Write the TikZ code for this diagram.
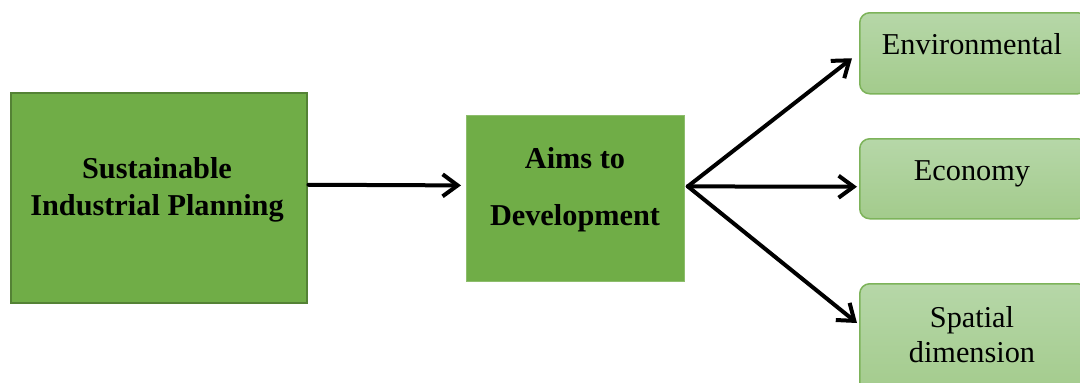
\documentclass[tikz,border=0pt]{standalone}
\usepackage{fontspec}
\setmainfont{Liberation Serif}
\usetikzlibrary{arrows.meta,calc}
\definecolor{mainfill}{HTML}{70AD47}
\definecolor{mainedge}{HTML}{548235}
\definecolor{lighttop}{HTML}{B6D7A8}
\definecolor{lightbot}{HTML}{A3CB8C}
\definecolor{lightedge}{HTML}{7DB35A}
\tikzset{
  mainbox/.style={draw=mainedge, line width=1.5pt, fill=mainfill, inner sep=0pt},
  aimbox/.style={draw=mainfill!80!white, line width=0.8pt, fill=mainfill, inner sep=0pt},
  outbox/.style={draw=lightedge, line width=1.5pt, rounded corners=10pt,
    top color=lighttop, bottom color=lightbot, inner sep=0pt},
  flow/.style={line width=4pt, -{Straight Barb[length=15pt,width=22pt,line width=4pt]},
    line cap=round, line join=round},
  boldtxt/.style={font=\fontsize{30.3}{38}\selectfont\bfseries, align=center},
  plaintxt/.style={font=\fontsize{30.3}{36}\selectfont, align=center},
}
\begin{document}
\begin{tikzpicture}[x=1pt,y=-1pt]
\useasboundingbox (0,0) rectangle (1080,383);
\clip (0,0) rectangle (1080,383);

% source box
\node[mainbox, minimum width=296pt, minimum height=210pt, anchor=north west] (sip) at (10,92) {};
\node[boldtxt, anchor=base] (sipa) at (157,178) {Sustainable};
\node[boldtxt, anchor=base] (sipb) at (157,215) {Industrial Planning};

% middle box
\node[aimbox, minimum width=218pt, minimum height=166pt, anchor=north west] (aim) at (466,115) {};
\node[boldtxt, anchor=base] (aima) at (575,168) {Aims to};
\node[boldtxt, anchor=base] (aimb) at (575,225) {Development};

% outcome boxes
\node[outbox, minimum width=228pt, minimum height=81pt, anchor=north west] (env) at (859,12) {};
\node[plaintxt, anchor=base] (envt) at (972,54) {Environmental};
\node[outbox, minimum width=228pt, minimum height=80pt, anchor=north west] (eco) at (859,138) {};
\node[plaintxt, anchor=base] (ecot) at (972,180) {Economy};
\node[outbox, minimum width=228pt, minimum height=112pt, anchor=north west] (spa) at (859,283) {};
\node[plaintxt, anchor=base] (spat) at (972,327) {Spatial};
\node[plaintxt, anchor=base] (spad) at (972,362) {dimension};

% connectors
\coordinate (fork) at ($(aim.east)+(3,-12)$);
\draw[flow] ($(sip.east)+(1,-13)$) -- ($(aim.west)+(-5,-13)$);
\draw[flow] (fork) -- ($(env.west)+(-7,5)$);
\draw[flow] (fork) -- ($(eco.west)+(-2,8)$);
\draw[flow] (fork) -- ($(spa.north west)+(-2,40)$);
\end{tikzpicture}
\end{document}
